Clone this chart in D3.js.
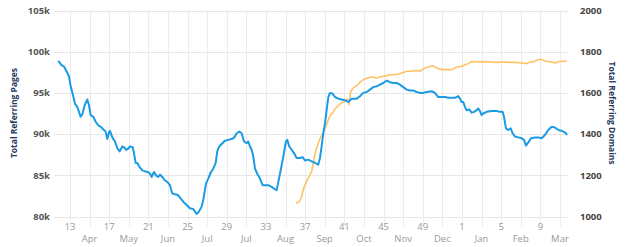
<!DOCTYPE html>
<html><head><meta charset="utf-8">
<script src="https://cdn.jsdelivr.net/npm/d3@7/dist/d3.min.js"></script>
<style>
html,body{margin:0;padding:0;background:#fff;}
svg{display:block;font-family:"Open Sans",sans-serif;}
</style></head><body>
<svg id="chart" width="628" height="247"></svg>
<script>
// Week numbers (weeks past 52 belong to the following year)
const pagesWeeks = [11.81,12.11,12.39,12.66,12.90,13.07,13.31,13.51,13.74,13.92,14.09,14.26,14.50,14.77,14.94,15.11,15.38,15.62,15.86,16.13,16.47,16.64,16.81,16.98,17.08,17.32,17.59,17.83,18.07,18.34,18.51,18.74,18.92,19.12,19.40,19.53,19.70,19.87,20.11,20.38,20.62,20.96,21.16,21.34,21.57,21.85,22.01,22.18,22.42,22.66,22.93,23.20,23.44,23.68,24.02,24.22,24.56,24.91,25.24,25.58,25.93,26.16,26.44,26.60,26.88,27.11,27.39,27.62,27.87,28.03,28.23,28.48,28.82,29.15,29.50,29.77,30.01,30.28,30.52,30.76,31.03,31.19,31.37,31.54,31.70,31.88,32.11,32.39,32.66,32.90,33.23,33.58,33.92,34.09,34.26,34.50,34.77,35.04,35.17,35.38,35.62,35.86,36.13,36.47,36.74,36.98,37.32,37.66,38.00,38.34,38.51,38.68,38.85,39.02,39.19,39.36,39.53,39.81,40.04,40.38,40.72,41.06,41.40,41.74,42.26,42.59,42.93,43.28,43.61,43.95,44.30,44.63,44.97,45.32,45.65,45.99,46.34,46.67,47.01,47.36,47.69,48.03,48.38,48.71,49.05,49.40,49.91,50.24,50.58,50.93,51.27,51.60,51.95,52.29,52.62,52.80,52.97,53.13,53.31,53.48,53.74,53.99,54.22,54.50,54.66,54.84,55.01,55.17,55.52,56.03,56.54,56.88,57.15,57.29,57.49,57.72,57.97,58.17,58.41,58.74,59.09,59.33,59.53,59.77,60.04,60.45,60.79,61.13,61.47,61.81,62.15,62.49,62.83,63.17,63.51,63.74];
// Total referring pages, in thousands
const pagesValues = [98.9,98.4,98.2,97.6,97.0,95.8,94.7,93.7,93.3,92.7,92.1,92.4,93.5,94.2,93.5,92.3,92.1,91.5,91.1,90.9,90.5,90.3,89.4,90.2,90.4,89.6,89.1,88.3,87.9,88.5,88.4,88.1,88.2,88.5,88.4,87.7,86.5,86.5,86.0,85.6,85.5,85.4,85.2,84.8,85.4,84.9,84.8,85.1,84.8,84.4,84.2,83.8,82.8,82.7,82.6,82.3,81.8,81.4,81.0,80.9,80.3,80.6,81.2,82.0,84.0,84.6,85.4,85.8,86.5,87.9,88.5,88.8,89.2,89.3,89.4,89.6,90.1,90.3,90.1,89.1,88.9,89.1,88.5,88.1,87.3,85.8,85.2,84.6,83.8,83.8,83.8,83.6,83.3,83.2,84.2,85.6,87.3,89.1,89.3,88.5,88.1,87.7,87.1,87.1,87.2,86.8,86.9,86.7,86.5,86.3,87.1,88.5,90.1,91.3,92.9,94.5,95.0,94.9,94.5,94.3,94.2,94.1,93.9,94.3,94.3,94.6,95.0,95.1,95.4,95.7,95.8,96.0,96.2,96.5,96.3,96.2,96.2,96.0,95.7,95.4,95.3,95.3,95.1,95.0,95.0,95.1,95.2,95.0,94.5,94.5,94.5,94.4,94.4,94.4,94.6,94.3,93.9,93.9,93.3,92.9,93.0,92.6,92.7,92.9,93.1,92.8,92.3,92.5,92.7,92.8,92.8,92.7,92.7,92.1,90.7,90.5,90.7,90.1,89.7,89.6,89.5,89.3,88.6,89.0,89.5,89.6,89.6,89.5,89.9,90.5,90.9,90.8,90.5,90.4,90.2,89.9];

const domainsWeeks = [36.06,36.40,36.64,36.88,37.15,37.39,37.66,37.90,38.10,38.34,38.58,38.85,39.12,39.36,39.60,39.81,40.04,40.38,40.72,41.06,41.30,41.47,41.64,41.91,42.26,42.59,42.93,43.34,43.79,44.30,44.81,45.32,45.83,46.34,46.85,47.36,47.87,48.38,48.71,49.22,49.56,50.01,50.42,50.93,51.44,51.95,52.46,52.97,53.31,53.64,53.99,54.50,55.17,55.86,56.54,57.21,57.90,58.58,59.09,59.53,59.94,60.45,60.79,61.13,61.64,62.15,62.49,62.93,63.34,63.68];
// Total referring domains
const domainsValues = [1064,1072,1096,1142,1169,1194,1218,1275,1324,1356,1385,1408,1437,1470,1494,1502,1522,1538,1551,1559,1570,1543,1607,1624,1635,1651,1664,1672,1677,1672,1680,1684,1689,1689,1697,1705,1705,1709,1705,1721,1726,1732,1721,1713,1713,1713,1726,1729,1737,1742,1753,1750,1752,1750,1748,1750,1748,1748,1745,1742,1750,1753,1762,1762,1753,1750,1745,1753,1753,1755];

const xTickWeeks = [13,15,17,19,21,23,25,27,29,31,33,35,37,39,41,43,45,47,49,51,53,55,57,59,61,63];
const xTickLabels = ["13","Apr","17","May","21","Jun","25","Jul","29","Jul","33","Aug","37","Sep","41","Oct","45","Nov","49","Dec","1","Jan","5","Feb","9","Mar"];
const leftTicks = [80,85,90,95,100,105];
const rightTicks = [1000,1200,1400,1600,1800,2000];
const leftTitle = "Total Referring Pages";
const rightTitle = "Total Referring Domains";

const svg = d3.select("#chart");
const L = 54, R = 568, T = 10.5, B = 216.5;

const x = d3.scaleLinear().domain([11.37, 63.82]).range([L, R]);
const yL = d3.scaleLinear().domain([80, 105]).range([B, T]);
const yR = d3.scaleLinear().domain([1000, 2000]).range([B, T]);

// vertical gridlines
svg.append("g").selectAll("line").data(xTickWeeks).join("line")
  .attr("x1", d => Math.round(x(d)) + 0.5).attr("x2", d => Math.round(x(d)) + 0.5)
  .attr("y1", T).attr("y2", B + 10)
  .attr("stroke", "#ececec").attr("stroke-width", 1);

// horizontal gridlines
svg.append("g").selectAll("line").data(leftTicks).join("line")
  .attr("x1", L).attr("x2", R)
  .attr("y1", d => Math.round(yL(d)) + 0.5).attr("y2", d => Math.round(yL(d)) + 0.5)
  .attr("stroke", "#e6e6e6").attr("stroke-width", 1);

// left axis labels
svg.append("g").selectAll("text").data(leftTicks).join("text")
  .attr("x", 50).attr("y", d => yL(d)).attr("dy", "0.35em")
  .attr("text-anchor", "end").attr("font-size", 9.5).attr("font-weight", "bold")
  .attr("fill", "#555").text(d => d + "k");

// right axis labels
svg.append("g").selectAll("text").data(rightTicks).join("text")
  .attr("x", 580).attr("y", d => yR(d)).attr("dy", "0.35em")
  .attr("text-anchor", "start").attr("font-size", 9.5).attr("font-weight", "bold")
  .attr("fill", "#444").text(d => d);

// x axis labels (two rows)
svg.append("g").selectAll("text").data(xTickWeeks).join("text")
  .attr("x", d => x(d)).attr("y", (d, i) => i % 2 === 0 ? 226.5 : 238.5).attr("dy", "0.35em")
  .attr("text-anchor", "middle").attr("font-size", 9.5)
  .attr("fill", "#9a9a9a").text((d, i) => xTickLabels[i]);

// axis titles
svg.append("text").attr("transform", "translate(14,113) rotate(-90)")
  .attr("text-anchor", "middle").attr("dy", "0.35em").attr("font-size", 8.5).attr("font-weight", "bold")
  .attr("fill", "#1f3a5f").text(leftTitle);
svg.append("text").attr("transform", "translate(612,113) rotate(90)")
  .attr("text-anchor", "middle").attr("dy", "0.35em").attr("font-size", 8.5).attr("font-weight", "bold")
  .attr("fill", "#1f3a5f").text(rightTitle);

// lines
const pagesData = pagesWeeks.map((w, i) => [w, pagesValues[i]]);
const domainsData = domainsWeeks.map((w, i) => [w, domainsValues[i]]);

svg.append("path").datum(domainsData)
  .attr("fill", "none").attr("stroke", "#ffc266").attr("stroke-width", 1.6)
  .attr("stroke-linejoin", "round")
  .attr("d", d3.line().x(d => x(d[0])).y(d => yR(d[1])));

svg.append("path").datum(pagesData)
  .attr("fill", "none").attr("stroke", "#1a9be3").attr("stroke-width", 2)
  .attr("stroke-linejoin", "round")
  .attr("d", d3.line().x(d => x(d[0])).y(d => yL(d[1])));
</script>
</body></html>
